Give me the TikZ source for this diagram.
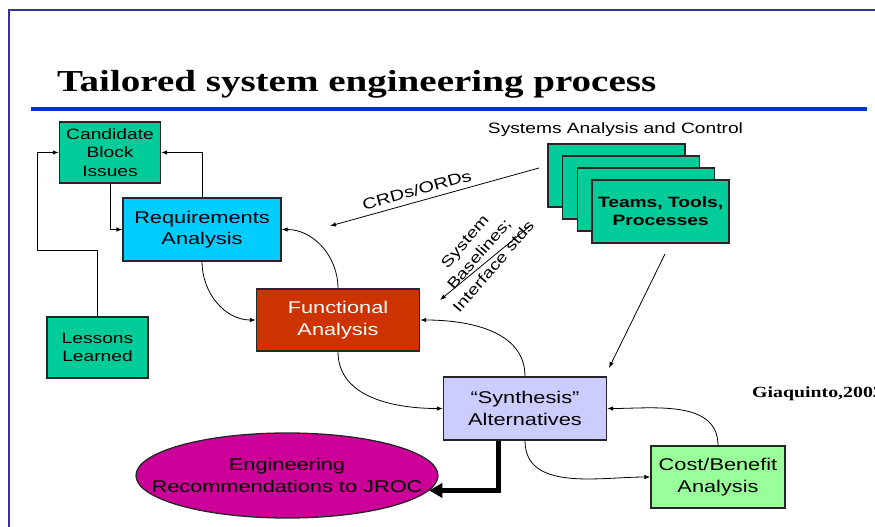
\documentclass[tikz,border=0pt]{standalone}
\usepackage{fontspec}
\setmainfont{Liberation Sans}[FakeStretch=1.28]
\newfontfamily\titlefont{Liberation Serif}[FakeStretch=1.28]
\usetikzlibrary{shapes.geometric,arrows.meta}
\definecolor{framecol}{HTML}{333399}
\definecolor{rulecol}{HTML}{0033CC}
\definecolor{teal}{HTML}{00CC99}
\definecolor{reqcol}{HTML}{00CCFF}
\definecolor{funcol}{HTML}{CC3300}
\definecolor{syncol}{HTML}{CCCCFF}
\definecolor{costcol}{HTML}{99FF99}
\definecolor{engcol}{HTML}{CC0099}

\begin{document}
\begin{tikzpicture}[x=1pt,y=-1pt,
  >={Latex[length=6pt,width=4.5pt]},
  blk/.style={draw=black!85, line width=1.3pt, align=center, inner sep=0pt,
    font=\fontsize{17}{21.5}\selectfont},
  small/.style={blk, font=\fontsize{15}{18.5}\selectfont},
  stackbox/.style={blk, fill=teal, minimum width=137pt, minimum height=63pt},
  flow/.style={->, line width=0.8pt}]
  \useasboundingbox (0,0) rectangle (875,527);
  % slide frame and title
  \draw[framecol, line width=2pt] (9,540) -- (9,10) -- (890,10);
  \node[anchor=base west, inner sep=0pt, font=\titlefont\bfseries\fontsize{30.5}{36}\selectfont]
    (title) at (57,92) {Tailored system engineering process};
  \draw[rulecol, line width=4pt] (31,108.5) -- (867,108.5);

  % process boxes
  \node[small, fill=teal, minimum width=101pt, minimum height=61pt] (cand) at (110,152.5) {Candidate\\Block\\Issues};
  \node[blk, fill=reqcol, minimum width=158pt, minimum height=63pt] (req) at (202,229.5) {Requirements\\Analysis};
  \node[small, fill=teal, minimum width=101pt, minimum height=61pt] (les) at (97.5,347.5) {Lessons\\Learned};
  \node[blk, fill=funcol, text=white, minimum width=163pt, minimum height=62pt] (fun) at (338,320) {Functional\\Analysis};
  \node[blk, fill=syncol, minimum width=163pt, minimum height=63pt] (syn) at (525,408.5) {``Synthesis''\\Alternatives};
  \node[blk, fill=costcol, minimum width=134pt, minimum height=62pt] (cost) at (718,477) {Cost/Benefit\\Analysis};
  \node[blk, ellipse, fill=engcol, inner xsep=-40pt, minimum width=302pt, minimum height=85pt]
    (eng) at (287,475.5) {Engineering\\Recommendations to JROC};

  % systems analysis and control
  \node[anchor=base, font=\fontsize{15}{18}\selectfont] (sac) at (615.5,133.5) {Systems Analysis and Control};
  \foreach \i in {0,1,2}
    \node[stackbox] (tt\i) at (616.5+14.7*\i,175.5+12*\i) {};
  \node[stackbox, font=\bfseries\fontsize{15}{18}\selectfont] (teams) at (660.6,211.5) {Teams, Tools,\\Processes};
  \node[anchor=base west, inner sep=0pt, font=\titlefont\bfseries\fontsize{15.5}{18}\selectfont]
    (cite) at (752,397) {Giaquinto,2002};

  \coordinate (crdS) at (539,168);
  \coordinate (crdE) at (330,226);
  \coordinate (sbS) at (530,226);
  \coordinate (sbE) at (440,300);
  \coordinate (ttS) at (665,254);
  \coordinate (ttE) at (609,368);
  \coordinate (lk) at (37,250);

  % feedback loops
  \draw[flow] (les.north) |- (lk) |- (cand.west);
  \draw[flow] (cand.south) |- (req.west);
  \draw[flow] (req.north) |- (cand.east);
  \draw[flow] (req.south) to[out=-90,in=180] (fun.west);
  \draw[flow] (fun.north) to[out=90,in=0] (req.east);
  \draw[flow] (fun.south) to[out=-90,in=180] (syn.west);
  \draw[flow] (syn.north) to[out=90,in=0] (fun.east);
  \draw[flow] (syn.south) to[out=-90,in=180] (cost.west);
  \draw[flow] (cost.north) to[out=90,in=0] (syn.east);
  \draw[line width=5pt, -{Triangle[length=13pt,width=14pt]}] ([xshift=56pt]syn.south west) |- (eng.-6.5);

  % control inputs
  \draw[flow] (crdS) -- (crdE) node[pos=0.57, above=2pt, sloped, font=\fontsize{15.5}{18}\selectfont] (crd) {CRDs/ORDs};
  \draw[flow] (sbS) -- (sbE);
  \node[rotate=49, align=center, font=\fontsize{15}{19}\selectfont] (sbl) at (479,254) {System\\Baselines;\\Interface stds};
  \draw[flow] (ttS) -- (ttE);
\end{tikzpicture}
\end{document}
